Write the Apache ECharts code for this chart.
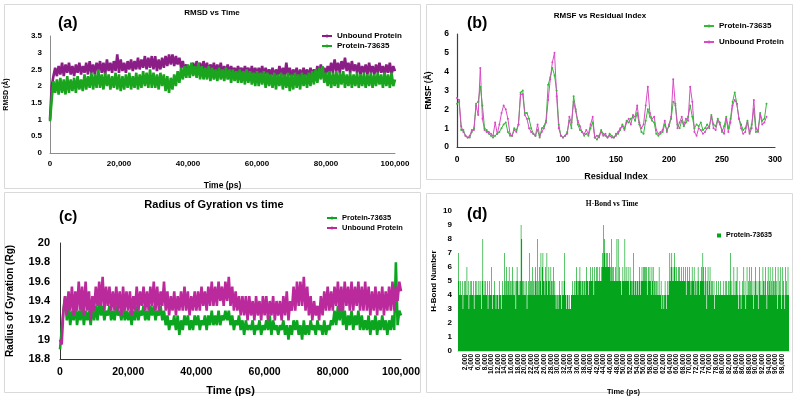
<!DOCTYPE html>
<html>
<head>
<meta charset="utf-8">
<script src="https://cdn.jsdelivr.net/npm/echarts@6/dist/echarts.min.js"></script>
<style>
  html, body { margin: 0; padding: 0; background: #fff; }
  #main { width: 799px; height: 397px; }
</style>
</head>
<body>
<div id="main"></div>
<script>
// (a) RMSD vs time, one value every 500 ps
const rmsdStep = 500;
const rmsdUnbound = [
  1.0, 2.0, 2.3, 2.55, 2.3, 2.6, 2.35, 2.7, 2.3, 2.65, 2.4, 2.7, 2.35, 2.6, 2.3, 2.65, 2.4, 2.7, 2.35, 2.6,
  2.4, 2.7, 2.35, 2.75, 2.4, 2.65, 2.35, 2.7, 2.45, 2.75, 2.4, 2.7, 2.35, 2.8, 2.45, 2.7, 2.4, 2.75, 2.45, 2.95,
  2.4, 2.8, 2.45, 2.7, 2.4, 2.75, 2.5, 2.8, 2.45, 2.75, 2.5, 2.85, 2.5, 2.8, 2.55, 2.9, 2.5, 2.85, 2.55, 2.9,
  2.5, 2.9, 2.45, 2.8, 2.5, 2.85, 2.55, 2.9, 2.6, 2.95, 2.65, 2.95, 2.6, 2.9, 2.65, 2.85, 2.55, 2.75, 2.45, 2.65,
  2.4, 2.6, 2.45, 2.7, 2.4, 2.75, 2.45, 2.7, 2.4, 2.75, 2.45, 2.7, 2.4, 2.65, 2.45, 2.7, 2.4, 2.65, 2.4, 2.7,
  2.35, 2.6, 2.4, 2.65, 2.35, 2.6, 2.4, 2.55, 2.35, 2.6, 2.4, 2.55, 2.35, 2.6, 2.4, 2.55, 2.3, 2.6, 2.35, 2.55,
  2.3, 2.55, 2.35, 2.6, 2.3, 2.55, 2.35, 2.5, 2.3, 2.55, 2.25, 2.5, 2.3, 2.6, 2.3, 2.55, 2.3, 2.7, 2.3, 2.55,
  2.25, 2.5, 2.3, 2.55, 2.2, 2.5, 2.25, 2.55, 2.3, 2.5, 2.25, 2.55, 2.3, 2.5, 2.3, 2.6, 2.35, 2.65, 2.3, 2.55,
  2.35, 2.6, 2.4, 2.7, 2.4, 2.8, 2.45, 2.7, 2.4, 2.75, 2.5, 2.85, 2.45, 2.7, 2.4, 2.75, 2.45, 2.65, 2.4, 2.7,
  2.35, 2.6, 2.4, 2.65, 2.35, 2.7, 2.4, 2.6, 2.35, 2.65, 2.4, 2.7, 2.4, 2.6, 2.35, 2.65, 2.4, 2.7, 2.35, 2.6, 2.45
];
const rmsdLigand = [
  0.95, 1.6, 2.15, 1.8, 2.2, 1.75, 2.25, 1.8, 2.2, 1.75, 2.3, 1.8, 2.2, 1.85, 2.25, 1.8, 2.3, 1.9, 2.2, 1.85,
  2.35, 1.9, 2.3, 1.95, 2.4, 1.9, 2.35, 1.95, 2.5, 1.95, 2.35, 1.9, 2.4, 2.0, 2.35, 1.9, 2.3, 1.95, 2.4, 1.9,
  2.35, 1.85, 2.3, 1.9, 2.35, 1.95, 2.4, 1.9, 2.3, 1.95, 2.4, 1.9, 2.35, 1.95, 2.45, 2.0, 2.4, 1.95, 2.5, 1.95,
  2.4, 1.95, 2.35, 1.9, 2.4, 2.0, 2.35, 1.85, 2.3, 1.8, 2.25, 1.9, 2.35, 2.0, 2.45, 2.1, 2.55, 2.2, 2.6, 2.25,
  2.65, 2.25, 2.7, 2.3, 2.6, 2.25, 2.7, 2.2, 2.6, 2.2, 2.55, 2.2, 2.6, 2.15, 2.55, 2.2, 2.5, 2.15, 2.55, 2.2,
  2.5, 2.15, 2.55, 2.2, 2.5, 2.1, 2.5, 2.15, 2.45, 2.1, 2.5, 2.1, 2.45, 2.05, 2.5, 2.1, 2.45, 2.05, 2.4, 2.0,
  2.45, 2.0, 2.4, 2.05, 2.45, 1.95, 2.4, 2.0, 2.35, 1.95, 2.4, 1.9, 2.35, 2.0, 2.4, 1.9, 2.35, 1.95, 2.4, 1.85,
  2.35, 1.9, 2.4, 1.95, 2.35, 1.9, 2.4, 2.0, 2.35, 1.95, 2.4, 2.0, 2.45, 2.05, 2.5, 2.1, 2.55, 2.2, 2.6, 2.1,
  2.4, 2.0, 2.45, 1.95, 2.4, 2.0, 2.45, 1.95, 2.4, 2.05, 2.45, 1.95, 2.35, 2.0, 2.4, 1.95, 2.35, 2.0, 2.4, 1.95,
  2.35, 2.0, 2.4, 1.95, 2.35, 2.0, 2.4, 1.95, 2.35, 2.0, 2.4, 2.05, 2.35, 1.95, 2.4, 2.0, 2.35, 1.95, 2.4, 2.0, 2.2
];

// (b) RMSF per residue, every 2nd residue
const rmsfStep = 2;
const rmsfLigand = [
  2.3, 2.4, 0.9, 0.9, 0.6, 0.5, 0.5, 0.8, 1.0, 2.3, 2.4, 3.2, 2.2, 1.0, 0.9, 0.7, 0.6, 0.5, 0.6, 0.7,
  0.8, 1.0, 1.2, 1.3, 0.8, 0.6, 0.6, 1.0, 0.9, 1.2, 2.9, 3.0, 1.8, 1.8, 1.5, 1.0, 0.7, 0.6, 0.9, 0.5,
  1.0, 1.1, 1.4, 3.3, 3.7, 4.2, 3.8, 3.0, 1.2, 0.6, 0.5, 0.6, 0.8, 1.4, 1.0, 2.7, 2.0, 1.2, 0.9, 0.8,
  0.6, 0.7, 0.6, 1.0, 1.3, 0.5, 0.4, 0.6, 0.9, 0.7, 0.6, 0.5, 0.7, 0.6, 0.5, 0.7, 0.7, 0.9, 1.2, 1.0,
  1.4, 1.3, 1.5, 1.6, 1.4, 1.8, 1.2, 0.8, 0.7, 1.4, 2.0, 1.6, 1.4, 1.3, 0.7, 0.6, 0.7, 0.8, 1.2, 0.9,
  1.1, 1.5, 2.4, 2.3, 1.2, 1.0, 1.4, 1.1, 1.3, 1.6, 2.2, 1.6, 1.0, 1.2, 1.1, 1.3, 0.9, 1.0, 1.2, 1.0,
  1.7, 1.2, 1.1, 1.5, 1.3, 0.8, 1.1, 1.6, 1.0, 1.5, 2.4, 2.9, 2.3, 1.5, 1.2, 0.9, 1.0, 1.4, 0.8, 1.2,
  2.0, 0.8, 0.9, 1.8, 1.4, 1.5, 2.3
];
const rmsfUnbound = [
  2.6, 2.5, 1.1, 0.8, 0.6, 0.5, 0.6, 0.9, 0.9, 2.2, 1.7, 4.2, 1.5, 0.9, 0.8, 0.8, 0.7, 0.6, 1.3, 0.7,
  1.2, 1.8, 2.2, 2.0, 1.5, 0.7, 0.6, 0.9, 0.8, 1.2, 2.8, 2.8, 1.7, 1.5, 1.0, 0.8, 0.7, 0.6, 1.2, 0.6,
  0.8, 1.0, 1.3, 2.5, 3.6, 4.5, 5.0, 2.7, 1.0, 0.6, 0.5, 0.6, 0.7, 1.6, 1.3, 2.4, 1.9, 1.4, 1.1, 0.8,
  0.7, 0.9, 0.7, 1.2, 1.6, 0.5, 0.6, 0.5, 0.8, 0.6, 0.7, 0.5, 0.6, 0.5, 0.5, 0.6, 0.8, 1.0, 1.1, 0.9,
  1.3, 1.5, 1.2, 1.7, 1.6, 2.2, 1.3, 1.0, 1.2, 2.2, 3.2, 1.8, 1.5, 1.6, 0.9, 0.7, 0.8, 0.9, 1.4, 0.8,
  1.2, 1.6, 3.6, 2.2, 1.0, 1.3, 1.6, 1.2, 1.5, 1.4, 3.2, 2.4, 0.8, 0.6, 1.0, 0.9, 0.7, 0.8, 1.0, 1.1,
  1.6, 1.0, 0.9, 1.4, 1.2, 0.9, 0.7, 1.5, 0.8, 1.3, 2.2, 2.5, 2.3, 1.5, 1.0, 0.7, 0.8, 1.3, 0.7, 1.0,
  2.5, 1.0, 0.8, 1.7, 1.2, 1.3, 1.6
];

// (c) Radius of gyration vs time, one value every 500 ps
const rgStep = 500;
const rgLigand = [
  18.9, 19.1, 19.3, 19.45, 19.2, 19.35, 19.15, 19.3, 19.2, 19.35, 19.15, 19.3, 19.2, 19.35, 19.15, 19.3, 19.2, 19.3, 19.15, 19.35,
  19.2, 19.35, 19.2, 19.4, 19.25, 19.35, 19.2, 19.3, 19.25, 19.35, 19.2, 19.3, 19.2, 19.35, 19.25, 19.3, 19.2, 19.35, 19.2, 19.3,
  19.2, 19.3, 19.15, 19.3, 19.2, 19.35, 19.2, 19.3, 19.25, 19.35, 19.2, 19.3, 19.2, 19.35, 19.25, 19.35, 19.2, 19.3, 19.25, 19.35,
  19.2, 19.3, 19.15, 19.25, 19.1, 19.2, 19.15, 19.25, 19.1, 19.25, 19.05, 19.2, 19.1, 19.25, 19.15, 19.25, 19.1, 19.2, 19.1, 19.25,
  19.15, 19.25, 19.1, 19.2, 19.15, 19.25, 19.1, 19.25, 19.15, 19.3, 19.15, 19.25, 19.15, 19.3, 19.15, 19.25, 19.2, 19.3, 19.2, 19.3,
  19.15, 19.25, 19.1, 19.2, 19.15, 19.25, 19.1, 19.2, 19.05, 19.2, 19.1, 19.15, 19.1, 19.2, 19.05, 19.15, 19.1, 19.2, 19.05, 19.15,
  19.1, 19.2, 19.1, 19.25, 19.05, 19.2, 19.1, 19.15, 19.05, 19.15, 19.1, 19.2, 19.05, 19.15, 19.0, 19.15, 19.05, 19.2, 19.1, 19.2,
  19.05, 19.15, 19.0, 19.2, 19.05, 19.15, 19.05, 19.2, 19.1, 19.15, 19.05, 19.2, 19.1, 19.15, 19.05, 19.2, 19.05, 19.15, 19.1, 19.2,
  19.15, 19.3, 19.15, 19.35, 19.2, 19.4, 19.15, 19.3, 19.1, 19.25, 19.15, 19.3, 19.1, 19.25, 19.15, 19.3, 19.1, 19.25, 19.1, 19.2,
  19.1, 19.25, 19.05, 19.2, 19.1, 19.25, 19.05, 19.2, 19.1, 19.25, 19.1, 19.2, 19.05, 19.2, 19.1, 19.25, 19.1, 19.8, 19.15, 19.3, 19.25
];
const rgUnbound = [
  19.0, 18.95, 19.3, 19.45, 19.25, 19.5, 19.3, 19.55, 19.25, 19.5, 19.3, 19.6, 19.3, 19.55, 19.25, 19.6, 19.3, 19.5, 19.2, 19.45,
  19.3, 19.55, 19.35, 19.6, 19.35, 19.65, 19.3, 19.55, 19.35, 19.55, 19.3, 19.5, 19.3, 19.55, 19.3, 19.5, 19.25, 19.55, 19.3, 19.5,
  19.3, 19.5, 19.25, 19.45, 19.3, 19.55, 19.3, 19.5, 19.35, 19.55, 19.3, 19.5, 19.3, 19.55, 19.35, 19.6, 19.3, 19.55, 19.3, 19.5,
  19.35, 19.6, 19.3, 19.5, 19.25, 19.45, 19.3, 19.5, 19.25, 19.45, 19.3, 19.5, 19.3, 19.55, 19.3, 19.5, 19.25, 19.45, 19.3, 19.5,
  19.3, 19.5, 19.3, 19.55, 19.35, 19.5, 19.3, 19.55, 19.35, 19.6, 19.35, 19.55, 19.35, 19.6, 19.4, 19.55, 19.35, 19.6, 19.4, 19.65,
  19.35, 19.55, 19.3, 19.5, 19.3, 19.45, 19.25, 19.45, 19.25, 19.45, 19.2, 19.45, 19.25, 19.4, 19.2, 19.45, 19.25, 19.4, 19.2, 19.45,
  19.25, 19.45, 19.2, 19.4, 19.25, 19.45, 19.2, 19.4, 19.25, 19.4, 19.2, 19.45, 19.25, 19.5, 19.2, 19.4, 19.3, 19.55, 19.3, 19.6,
  19.35, 19.6, 19.35, 19.65, 19.3, 19.55, 19.25, 19.45, 19.2, 19.4, 19.25, 19.35, 19.2, 19.45, 19.25, 19.5, 19.3, 19.55, 19.3, 19.5,
  19.3, 19.55, 19.35, 19.6, 19.3, 19.55, 19.3, 19.6, 19.35, 19.55, 19.3, 19.6, 19.3, 19.55, 19.35, 19.6, 19.3, 19.55, 19.3, 19.6,
  19.3, 19.55, 19.25, 19.5, 19.3, 19.55, 19.25, 19.5, 19.3, 19.55, 19.25, 19.5, 19.3, 19.55, 19.3, 19.6, 19.3, 19.55, 19.4, 19.6, 19.5
];

// (d) H-bond count, one value every 200 ps
const hbondStep = 200;
const hbondCounts = [
  7,5,4,5,4,4,5,3,4,5, 4,5,4,6,4,5,3,4,5,4, 5,4,4,5,3,4,5,4,5,4, 4,5,4,5,4,3,5,8,4,5,
  4,5,4,4,5,3,4,5,4,4, 6,4,3,4,4,5,4,3,4,4, 4,3,5,4,4,3,4,5,4,4, 7,5,4,6,5,4,5,6,4,5,
  4,5,6,4,5,4,5,3,5,6, 5,4,5,4,5,9,8,5,4,5, 4,5,4,5,3,4,5,4,7,5, 4,5,6,4,5,4,5,6,5,4,
  8,5,4,6,5,7,4,6,7,5, 5,4,6,5,7,4,5,6,5,4, 6,5,4,5,6,4,5,4,3,4, 4,3,4,5,4,4,3,5,4,4,
  5,7,4,4,3,4,4,3,4,3, 3,4,4,5,4,4,5,4,5,6, 5,4,5,5,6,5,4,5,5,4, 5,5,4,5,6,5,5,4,5,5,
  6,5,5,6,5,4,6,5,5,6, 5,6,5,5,6,5,5,6,7,6, 9,8,7,6,7,6,7,6,6,7, 6,5,8,6,5,6,5,5,6,5,
  8,5,8,5,6,5,5,4,5,6, 5,5,8,5,6,5,5,6,5,4, 6,5,5,4,5,7,5,4,5,5, 4,5,5,4,6,5,4,5,6,5,
  6,5,6,6,5,6,4,5,6,5, 6,5,4,6,5,6,4,5,5,4, 5,4,5,4,6,4,4,5,3,4, 4,3,4,5,4,3,4,5,4,5,
  7,5,6,7,5,6,5,7,6,5, 6,5,5,6,5,6,5,5,6,5, 5,6,5,5,6,4,5,6,5,5, 6,5,4,5,6,5,5,6,4,5,
  5,4,5,6,5,4,5,5,6,5, 7,6,5,4,6,5,3,5,6,4, 5,6,4,5,4,5,4,5,3,4, 4,5,4,4,5,4,4,5,4,4,
  4,5,4,4,5,4,5,4,4,5, 4,5,7,4,5,4,4,6,4,5, 4,5,6,4,3,4,5,4,3,4, 5,4,6,4,5,3,4,6,4,5,
  4,6,5,4,6,4,5,3,4,5, 6,4,5,4,3,5,6,4,5,4, 4,6,5,4,5,6,4,3,5,6, 4,5,6,4,5,4,6,5,4,5,
  6,4,5,3,6,4,5,4,6,3, 4,6,5,4,3,6,4,5,4,6, 4
];

const withCommas = n => String(n).replace(/\B(?=(\d{3})+(?!\d))/g, ',');
const hbondTimes = hbondCounts.map((_, i) => withCommas(i * hbondStep));
const pairs = (arr, step) => arr.map((v, i) => [i * step, v]);

const FONT = '"Liberation Sans", Arial, sans-serif';
const SERIF = '"Liberation Serif", "Times New Roman", serif';
const stripTag = n => n.split('|')[1];

const boxStyle = { fill: 'none', stroke: '#d9d9d9', lineWidth: 1 };
const label = (text, x, y, font, align) => ({
  type: 'text', x: x, y: y, silent: true,
  style: { text: text, font: font, fill: '#000', textAlign: align || 'center', textVerticalAlign: 'middle' }
});

const chart = echarts.init(document.getElementById('main'));

chart.setOption({
  animation: false,
  textStyle: { fontFamily: FONT },
  graphic: [
    { type: 'rect', silent: true, shape: { x: 4.5, y: 4.5, width: 416, height: 184 }, style: boxStyle },
    { type: 'rect', silent: true, shape: { x: 426.5, y: 4.5, width: 366, height: 175 }, style: boxStyle },
    { type: 'rect', silent: true, shape: { x: 4.5, y: 192.5, width: 416, height: 200 }, style: boxStyle },
    { type: 'rect', silent: true, shape: { x: 426.5, y: 193.5, width: 366, height: 199 }, style: boxStyle },
    label('RMSD vs Time', 212, 13, 'bold 8px ' + FONT),
    label('(a)', 58, 24, 'bold 16px ' + FONT, 'left'),
    label('RMSF vs Residual Index', 600, 16, 'bold 8px ' + FONT),
    label('(b)', 467, 24, 'bold 16px ' + FONT, 'left'),
    label('Radius of Gyration vs time', 214, 205, 'bold 11px ' + FONT),
    label('(c)', 59, 217, 'bold 15px ' + FONT, 'left'),
    label('H-Bond vs Time', 612, 204, 'bold 7.5px ' + SERIF),
    label('(d)', 467, 215, 'bold 16px ' + FONT, 'left')
  ],
  legend: [
    {
      data: ['a|Unbound Protein', 'a|Protein-73635'], formatter: stripTag,
      orient: 'vertical', left: 316, top: 27, itemGap: 2, itemWidth: 10, itemHeight: 4,
      textStyle: { fontSize: 8, fontWeight: 'bold', color: '#000' }
    },
    {
      data: ['b|Protein-73635', 'b|Unbound Protein'], formatter: stripTag,
      orient: 'vertical', left: 698, top: 17, itemGap: 8, itemWidth: 10, itemHeight: 4,
      textStyle: { fontSize: 8, fontWeight: 'bold', color: '#000' }
    },
    {
      data: ['c|Protein-73635', 'c|Unbound Protein'], formatter: stripTag,
      orient: 'vertical', left: 321, top: 209, itemGap: 2, itemWidth: 10, itemHeight: 4,
      textStyle: { fontSize: 7.5, fontWeight: 'bold', color: '#000' }
    },
    {
      data: ['d|Protein-73635'], formatter: stripTag,
      orient: 'vertical', left: 712, top: 227, itemWidth: 4, itemHeight: 4, icon: 'rect',
      textStyle: { fontSize: 7, fontWeight: 'bold', color: '#000' }
    }
  ],
  grid: [
    { left: 50, top: 36, width: 345, height: 117 },
    { left: 457, top: 34, width: 318, height: 113 },
    { left: 60, top: 243, width: 341, height: 118 },
    { left: 458, top: 211, width: 331, height: 140 }
  ],
  xAxis: [
    {
      gridIndex: 0, type: 'value', min: 0, max: 100000, interval: 20000,
      name: 'Time (ps)', nameLocation: 'middle', nameGap: 28,
      nameTextStyle: { fontSize: 8.5, fontWeight: 'bold', color: '#000' },
      axisLine: { lineStyle: { color: '#8c8c8c' } }, axisTick: { show: false }, splitLine: { show: false },
      axisLabel: { fontSize: 8, fontWeight: 'bold', color: '#000', margin: 7 }
    },
    {
      gridIndex: 1, type: 'value', min: 0, max: 300, interval: 50,
      name: 'Residual Index', nameLocation: 'middle', nameGap: 25,
      nameTextStyle: { fontSize: 9, fontWeight: 'bold', color: '#000' },
      axisLine: { lineStyle: { color: '#404040', width: 1.2 } }, axisTick: { show: false }, splitLine: { show: false },
      axisLabel: { fontSize: 8.5, fontWeight: 'bold', color: '#000', margin: 8 }
    },
    {
      gridIndex: 2, type: 'value', min: 0, max: 100000, interval: 20000,
      name: 'Time (ps)', nameLocation: 'middle', nameGap: 26,
      nameTextStyle: { fontSize: 11, fontWeight: 'bold', color: '#000' },
      axisLine: { lineStyle: { color: '#333' } }, axisTick: { show: false }, splitLine: { show: false },
      axisLabel: { fontSize: 10.5, fontWeight: 'bold', color: '#000', margin: 8 }
    },
    {
      gridIndex: 3, type: 'category', data: hbondTimes,
      name: 'Time (ps)', nameLocation: 'middle', nameGap: 37,
      nameTextStyle: { fontSize: 7.5, fontWeight: 'bold', color: '#000' },
      axisLine: { lineStyle: { color: '#d0d0d0' } }, axisTick: { show: false }, splitLine: { show: false },
      axisLabel: { interval: 9, rotate: 90, fontSize: 6.5, fontWeight: 'bold', color: '#000', margin: 3 }
    }
  ],
  yAxis: [
    {
      gridIndex: 0, type: 'value', min: 0, max: 3.5, interval: 0.5,
      name: 'RMSD (Å)', nameLocation: 'middle', nameGap: 40, nameRotate: 90,
      nameTextStyle: { fontSize: 7, fontWeight: 'bold', color: '#000' },
      axisLine: { show: true, lineStyle: { color: '#8c8c8c' } }, axisTick: { show: false }, splitLine: { show: false },
      axisLabel: { fontSize: 8, fontWeight: 'bold', color: '#000', margin: 8 }
    },
    {
      gridIndex: 1, type: 'value', min: 0, max: 6, interval: 1,
      name: 'RMSF (Å)', nameLocation: 'middle', nameGap: 24, nameRotate: 90,
      nameTextStyle: { fontSize: 8.5, fontWeight: 'bold', color: '#000' },
      axisLine: { show: true, lineStyle: { color: '#404040', width: 1.2 } }, axisTick: { show: false }, splitLine: { show: false },
      axisLabel: { fontSize: 8.5, fontWeight: 'bold', color: '#000', margin: 8 }
    },
    {
      gridIndex: 2, type: 'value', min: 18.8, max: 20, interval: 0.2,
      name: 'Radius of Gyration (Rg)', nameLocation: 'middle', nameGap: 45, nameRotate: 90,
      nameTextStyle: { fontSize: 10, fontWeight: 'bold', color: '#000' },
      axisLine: { show: true, lineStyle: { color: '#333' } }, axisTick: { show: false }, splitLine: { show: false },
      axisLabel: { fontSize: 11, fontWeight: 'bold', color: '#000', margin: 10 }
    },
    {
      gridIndex: 3, type: 'value', min: 0, max: 10, interval: 1,
      name: 'H-Bond Number', nameLocation: 'middle', nameGap: 20, nameRotate: 90,
      nameTextStyle: { fontSize: 8, fontWeight: 'bold', color: '#000' },
      axisLine: { show: false }, axisTick: { show: false }, splitLine: { show: false },
      axisLabel: { fontSize: 8, fontWeight: 'bold', color: '#000', margin: 6 }
    }
  ],
  series: [
    {
      name: 'a|Unbound Protein', type: 'line', xAxisIndex: 0, yAxisIndex: 0,
      data: pairs(rmsdUnbound, rmsdStep), color: '#8b1d86',
      showSymbol: false, symbol: 'circle', symbolSize: 3, lineStyle: { width: 2.6 }
    },
    {
      name: 'a|Protein-73635', type: 'line', xAxisIndex: 0, yAxisIndex: 0,
      data: pairs(rmsdLigand, rmsdStep), color: '#1ba51f',
      showSymbol: false, symbol: 'circle', symbolSize: 3, lineStyle: { width: 2.6 }
    },
    {
      name: 'b|Protein-73635', type: 'line', xAxisIndex: 1, yAxisIndex: 1,
      data: pairs(rmsfLigand, rmsfStep), color: '#36b83a',
      symbol: 'circle', symbolSize: 2, lineStyle: { width: 1 }
    },
    {
      name: 'b|Unbound Protein', type: 'line', xAxisIndex: 1, yAxisIndex: 1,
      data: pairs(rmsfUnbound, rmsfStep), color: '#d94bc4',
      symbol: 'circle', symbolSize: 2, lineStyle: { width: 1 }
    },
    {
      name: 'c|Protein-73635', type: 'line', xAxisIndex: 2, yAxisIndex: 2,
      data: pairs(rgLigand, rgStep), color: '#0ca51f',
      showSymbol: false, symbol: 'circle', symbolSize: 3, lineStyle: { width: 2.6 }
    },
    {
      name: 'c|Unbound Protein', type: 'line', xAxisIndex: 2, yAxisIndex: 2,
      data: pairs(rgUnbound, rgStep), color: '#bb2a9c',
      showSymbol: false, symbol: 'circle', symbolSize: 3, lineStyle: { width: 2.6 }
    },
    {
      name: 'd|Protein-73635', type: 'bar', xAxisIndex: 3, yAxisIndex: 3,
      data: hbondCounts, color: '#04a51c', barCategoryGap: '0%',
      large: true, largeThreshold: 100
    }
  ]
});
</script>
</body>
</html>
